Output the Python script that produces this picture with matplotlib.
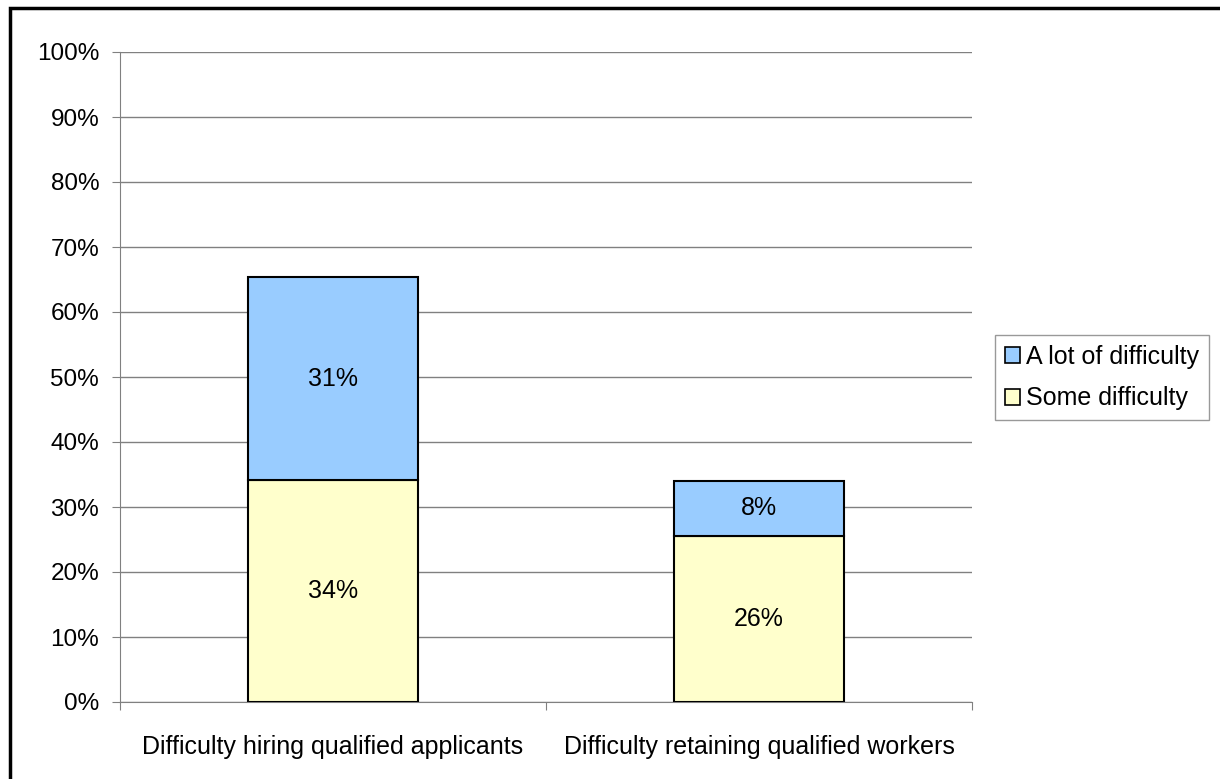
import matplotlib
matplotlib.use('Agg')
import matplotlib.pyplot as plt
from matplotlib.patches import Rectangle, Patch

plt.rcParams['font.family'] = ['Liberation Sans', 'DejaVu Sans']

categories = ['Difficulty hiring qualified applicants', 'Difficulty retaining qualified workers']
some_difficulty = [34.1, 25.6]
a_lot_difficulty = [31.3, 8.4]
yticks = list(range(0, 101, 10))

c_some = '#FFFFCC'
c_lot = '#99CCFF'
fs = 18

fig = plt.figure(figsize=(12.2, 7.79), dpi=100)
ax = fig.add_axes([120 / 1220, 77 / 779, 852 / 1220, 650 / 779])

x = [0.5, 1.5]
ax.bar(x, some_difficulty, width=0.4, color=c_some, edgecolor='black', lw=1.5, zorder=3)
ax.bar(x, a_lot_difficulty, width=0.4, bottom=some_difficulty, color=c_lot,
       edgecolor='black', lw=1.5, zorder=3)

# value labels centred in each segment
for xi, s, a in zip(x, some_difficulty, a_lot_difficulty):
    ax.text(xi, s / 2, f'{round(s):.0f}%', ha='center', va='center', fontsize=fs, zorder=4)
    ax.text(xi, s + a / 2, f'{round(a):.0f}%', ha='center', va='center', fontsize=fs, zorder=4)

ax.set_xlim(0, 2)
ax.set_ylim(0, 100)
ax.set_yticks(yticks)
ax.set_yticklabels([f'{t}%' for t in yticks], fontsize=17.5)
ax.yaxis.grid(True, color='#808080', lw=1)
ax.set_axisbelow(True)

# category boundary ticks, labels under the centres
ax.set_xticks([0, 1, 2])
ax.set_xticklabels([])
ax.set_xticks(x, minor=True)
ax.set_xticklabels(categories, minor=True, fontsize=fs)
ax.tick_params(axis='x', which='minor', length=0, pad=24)
ax.tick_params(axis='x', which='major', length=6, color='#808080')
ax.tick_params(axis='y', length=6, color='#808080', pad=9)

for side in ['top', 'right']:
    ax.spines[side].set_visible(False)
ax.spines['left'].set_color('#808080')
ax.spines['bottom'].set_color('#808080')

handles = [Patch(facecolor=c_lot, edgecolor='black', lw=1.2, label='A lot of difficulty'),
           Patch(facecolor=c_some, edgecolor='black', lw=1.2, label='Some difficulty')]
leg = fig.legend(handles=handles, loc='upper left', bbox_to_anchor=(995 / 1220, 1 - 335 / 779),
                 fontsize=fs, frameon=True, fancybox=False, handlelength=0.6, handleheight=0.6,
                 handletextpad=0.25, borderpad=0.4, labelspacing=0.7, borderaxespad=0)
leg.get_frame().set_edgecolor('#808080')
leg.get_frame().set_linewidth(1)

# outer chart border
fig.patches.append(Rectangle((10 / 1220, -0.05), 1.1, 1 - 8 / 779 + 0.05, transform=fig.transFigure,
                             fill=False, edgecolor='black', lw=2.5))

fig.savefig('out.png', dpi=100)
